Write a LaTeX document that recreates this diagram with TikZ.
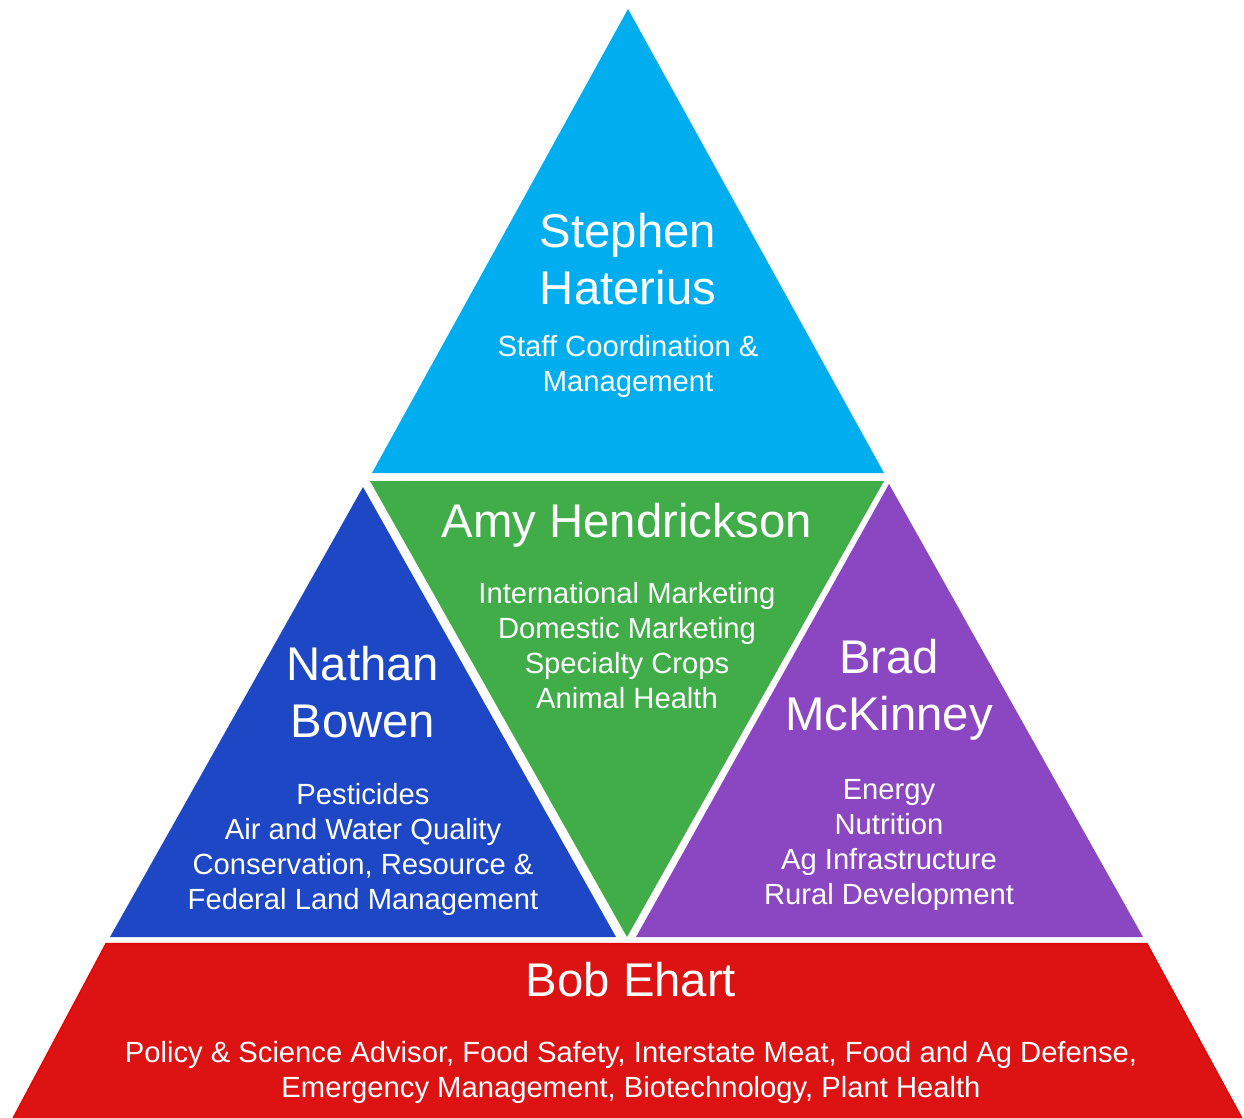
\documentclass[tikz,border=0pt]{standalone}
\usepackage{fontspec}
\setmainfont{Liberation Sans}
\definecolor{cyanT}{HTML}{00AEEF}
\definecolor{greenT}{HTML}{41AD49}
\definecolor{blueT}{HTML}{1D47C4}
\definecolor{purpleT}{HTML}{8B47C2}
\definecolor{redT}{HTML}{DD1212}
\definecolor{redEdge}{HTML}{E60000}
\begin{document}
\begin{tikzpicture}[x=1pt,y=-1pt,
  namestyle/.style={text=white, font=\fontsize{47.3}{56.5}\selectfont, align=center, anchor=base, inner sep=0pt},
  descstyle/.style={text=white, font=\fontsize{29.2}{35}\selectfont, align=center, anchor=base, inner sep=0pt}]
\useasboundingbox (0,0) rectangle (1244,1118);
% shapes
\fill[cyanT] (628,9) -- (884,473) -- (372,473) -- cycle;
\fill[greenT] (370,481) -- (884,481) -- (627,937) -- cycle;
\fill[blueT] (363,487) -- (616,937) -- (110,937) -- cycle;
\fill[purpleT] (889,484) -- (1143,937) -- (636,937) -- cycle;
\filldraw[fill=redT, draw=redEdge, line width=1.2pt] (106,943.5) -- (1147,943.5) -- (1243,1120) -- (12,1120) -- cycle;
% texts (anchor = baseline of the last line)
\node[namestyle] (stephen) at (628,304) {Stephen\\Haterius};
\node[descstyle] (stephend) at (628,391) {Staff Coordination \&\\Management};
\node[namestyle] (amy) at (627,537) {Amy Hendrickson};
\node[descstyle] (amyd) at (627,708) {International Marketing\\Domestic Marketing\\Specialty Crops\\Animal Health};
\node[namestyle] (nathan) at (363,737) {Nathan\\Bowen};
\node[descstyle] (nathand) at (363,909) {Pesticides\\Air and Water Quality\\Conservation, Resource \&\\Federal Land Management};
\node[namestyle] (brad) at (889,730) {Brad\\McKinney};
\node[descstyle] (bradd) at (889,904) {Energy\\Nutrition\\Ag Infrastructure\\Rural Development};
\node[namestyle] (bob) at (631,996) {Bob Ehart};
\node[descstyle] (bobd) at (631,1097) {Policy \& Science Advisor, Food Safety, Interstate Meat, Food and Ag Defense,\\Emergency Management, Biotechnology, Plant Health};
\end{tikzpicture}
\end{document}
